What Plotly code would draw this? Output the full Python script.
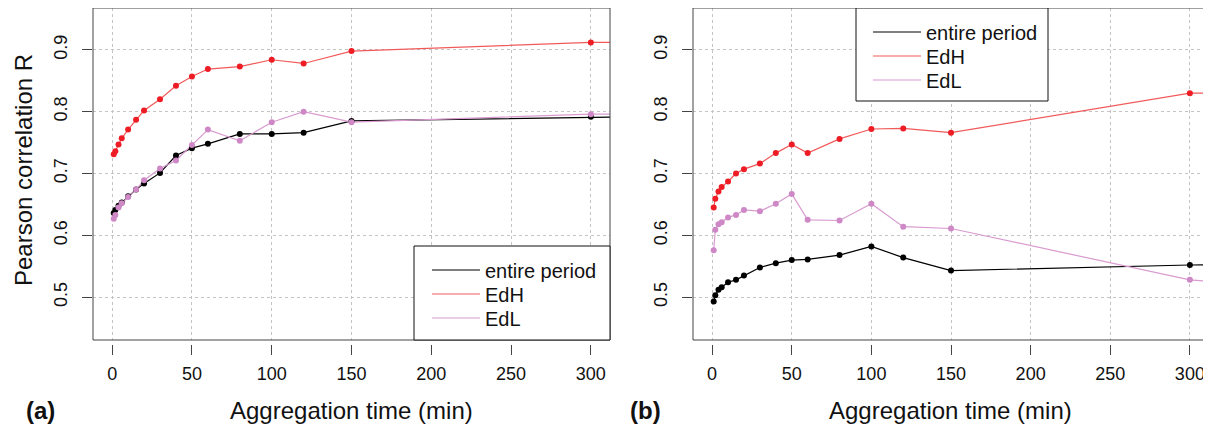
import plotly.graph_objects as go

# ---------------- data ----------------
t_min = [1, 2, 4, 6, 10, 15, 20, 30, 40, 50, 60, 80, 100, 120, 150, 300, 360]

a_entire = [0.636, 0.641, 0.648, 0.653, 0.663, 0.674, 0.684, 0.701, 0.729, 0.741, 0.748, 0.764, 0.764, 0.766, 0.785, 0.792, 0.793]
a_edh    = [0.731, 0.736, 0.747, 0.757, 0.771, 0.787, 0.802, 0.820, 0.842, 0.857, 0.869, 0.873, 0.884, 0.878, 0.898, 0.912, 0.913]
a_edl    = [0.627, 0.633, 0.645, 0.652, 0.662, 0.674, 0.689, 0.708, 0.721, 0.746, 0.771, 0.753, 0.783, 0.800, 0.783, 0.796, 0.797]

b_entire = [0.493, 0.503, 0.512, 0.516, 0.524, 0.528, 0.535, 0.548, 0.555, 0.560, 0.561, 0.568, 0.582, 0.564, 0.543, 0.552, 0.554]
b_edh    = [0.645, 0.659, 0.671, 0.678, 0.687, 0.700, 0.707, 0.716, 0.733, 0.747, 0.733, 0.756, 0.772, 0.773, 0.766, 0.830, 0.831]
b_edl    = [0.576, 0.609, 0.618, 0.621, 0.629, 0.633, 0.641, 0.639, 0.651, 0.667, 0.625, 0.624, 0.651, 0.614, 0.611, 0.528, 0.515]

series_names = ["entire period", "EdH", "EdL"]
x_ticks = [0, 50, 100, 150, 200, 250, 300]
y_ticks = [0.5, 0.6, 0.7, 0.8, 0.9]

# ---------------- styling ----------------
# page body has an 8px margin; positions below are given in page pixels
OFF = 8
W, H = 1211 - OFF, 433 - OFF
FONT = "Arial, Liberation Sans, sans-serif"
line_cols = ["#000000", "#f25a5a", "#d99bd0"]
mark_cols = ["#000000", "#ee1c24", "#cf88c6"]


def px_x(p):
    return min(max((p - OFF) / W, 0.0), 1.0)


def px_y(p):
    return min(max((H - (p - OFF)) / H, 0.0), 1.0)


fig = go.Figure()

panels = [
    ("x", "y", [a_entire, a_edh, a_edl], 427, [270, 294, 318], 1),
    ("x2", "y2", [b_entire, b_edh, b_edl], 868, [32, 56, 80], 4),
]
legend_layouts = {}
for xa, ya, vals, leg_x, rows, lg0 in panels:
    for i, (name, v, lc) in enumerate(zip(series_names, vals, line_cols)):
        key = "legend" if lg0 + i == 1 else f"legend{lg0 + i}"
        fig.add_trace(go.Scatter(
            x=t_min, y=v, mode="lines", name=name, xaxis=xa, yaxis=ya,
            line=dict(color=lc, width=1.2), legend=key, showlegend=True,
        ))
        legend_layouts[key] = dict(
            x=px_x(leg_x), xanchor="left", y=px_y(rows[i]), yanchor="middle",
            bgcolor="rgba(0,0,0,0)", borderwidth=0, itemwidth=48,
            font=dict(family=FONT, size=20, color="#111"),
        )
    for name, v, mc in zip(series_names, vals, mark_cols):
        fig.add_trace(go.Scatter(
            x=t_min, y=v, mode="markers", name=name, xaxis=xa, yaxis=ya,
            marker=dict(color=mc, size=6), showlegend=False,
        ))

# plot box spans page y 8 .. 340 (0.9 grid at y=50, 62 px per 0.1)
y_dom = [px_y(340), px_y(8)]
x_dom1 = [px_x(93), px_x(610)]
x_dom2 = [px_x(693), px_x(1209)]
x_pos = px_y(344)
y_top = 0.9 + (50 - 8) / 620.0
y_bot = 0.5 - (340 - 297) / 620.0

grid = dict(showgrid=True, gridcolor="#c4c4c4", griddash="dot", gridwidth=1, zeroline=False)

xcommon = dict(range=[-12, 312], tickmode="array", tickvals=x_ticks, ticks="outside",
               ticklen=10, tickcolor="#444", showline=False, anchor="free", position=x_pos,
               tickfont=dict(family=FONT, size=18, color="#111"), ticklabelstandoff=3, **grid)
ycommon = dict(range=[y_bot, y_top], tickmode="array", tickvals=y_ticks,
               ticktext=[f"{v:.1f}" for v in y_ticks], ticks="outside", ticklen=10,
               tickcolor="#444", showline=False, tickangle=-90,
               tickfont=dict(family=FONT, size=18, color="#111"), ticklabelstandoff=8, **grid)

fig.update_layout(
    width=W, height=H, margin=dict(l=0, r=0, t=0, b=0),
    paper_bgcolor="white", plot_bgcolor="white",
    xaxis=dict(domain=x_dom1, **xcommon),
    yaxis=dict(domain=y_dom, anchor="x", **ycommon),
    xaxis2=dict(domain=x_dom2, **xcommon),
    yaxis2=dict(domain=y_dom, anchor="x2", **ycommon),
    showlegend=True,
    **legend_layouts,
)

# plot frames and legend boxes
shapes = []
for xr, yr in [("x domain", "y domain"), ("x2 domain", "y2 domain")]:
    shapes.append(dict(type="rect", xref=xr, yref=yr, x0=0, x1=1, y0=0, y1=1,
                       line=dict(color="#444", width=1), fillcolor="rgba(0,0,0,0)", layer="above"))
shapes.append(dict(type="rect", xref="paper", yref="paper", x0=px_x(414), x1=px_x(610),
                   y0=px_y(340), y1=px_y(246), line=dict(color="#111", width=1),
                   fillcolor="white", layer="above"))
shapes.append(dict(type="rect", xref="paper", yref="paper", x0=px_x(856), x1=px_x(1048),
                   y0=px_y(101), y1=px_y(8), line=dict(color="#111", width=1),
                   fillcolor="white", layer="above"))
fig.update_layout(shapes=shapes)

ann = [
    dict(text="Pearson correlation R", x=px_x(23), y=px_y(170), textangle=-90,
         font=dict(family=FONT, size=24, color="#111")),
    dict(text="Aggregation time (min)", x=px_x(351), y=px_y(410),
         font=dict(family=FONT, size=24, color="#111")),
    dict(text="Aggregation time (min)", x=px_x(950), y=px_y(410),
         font=dict(family=FONT, size=24, color="#111")),
    dict(text="<b>(a)</b>", x=px_x(40), y=px_y(410),
         font=dict(family=FONT, size=24, color="#111")),
    dict(text="<b>(b)</b>", x=px_x(645), y=px_y(410),
         font=dict(family=FONT, size=24, color="#111")),
]
for a in ann:
    a.update(xref="paper", yref="paper", showarrow=False, xanchor="center", yanchor="middle")
fig.update_layout(annotations=ann)

fig.write_html("out.html")
